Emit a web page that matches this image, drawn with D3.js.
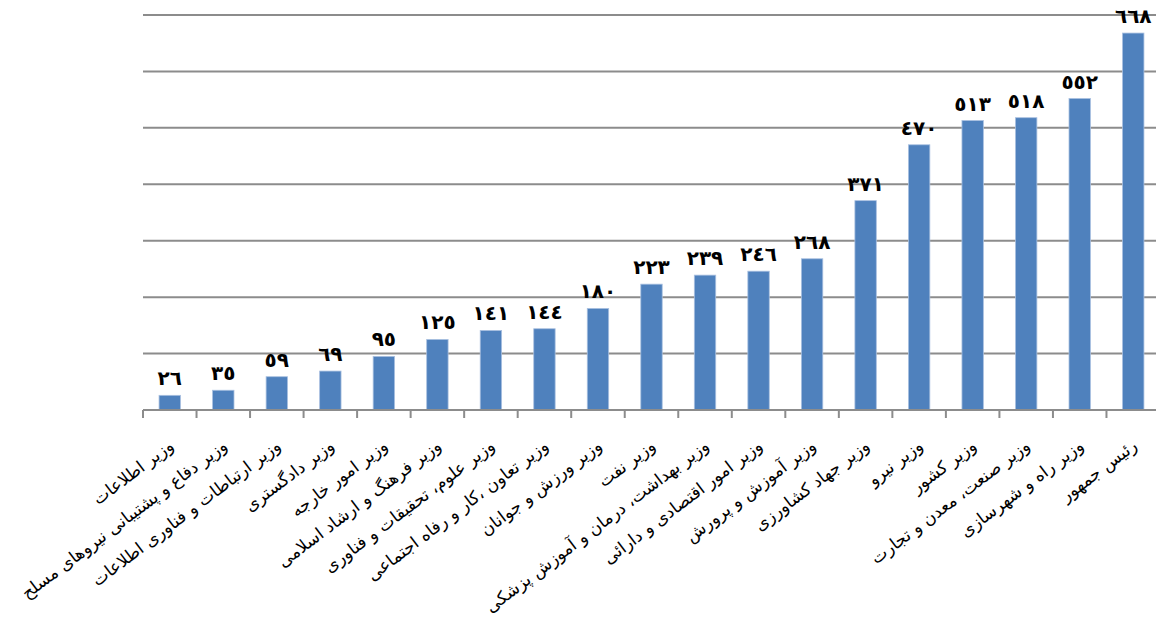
<!DOCTYPE html>
<html>
<head>
<meta charset="utf-8">
<script src="https://cdn.jsdelivr.net/npm/d3@7"></script>
<style>
  body { margin: 0; background: #fff; }
  svg { display: block; }
</style>
</head>
<body>
<script>

// categories, left to right
var categories = [
  "وزیر اطلاعات",
  "وزیر دفاع و پشتیبانی نیروهای مسلح",
  "وزیر ارتباطات و فناوری اطلاعات",
  "وزیر دادگستری",
  "وزیر امور خارجه",
  "وزیر فرهنگ و ارشاد اسلامی",
  "وزیر علوم، تحقیقات و فناوری",
  "وزیر تعاون ،کار و رفاه اجتماعی",
  "وزیر ورزش و جوانان",
  "وزیر نفت",
  "وزیر بهداشت، درمان و آموزش پزشکی",
  "وزیر امور اقتصادی و دارائی",
  "وزیر آموزش و پرورش",
  "وزیر جهاد کشاورزی",
  "وزیر نیرو",
  "وزیر  کشور",
  "وزیر صنعت، معدن و تجارت",
  "وزیر راه و شهرسازی",
  "رئیس جمهور"
];

var values = [26, 35, 59, 69, 95, 125, 141, 144, 180, 223, 239, 246, 268, 371, 470, 513, 518, 552, 668];

var gridTicks = [0, 100, 200, 300, 400, 500, 600, 700];

var width = 1156, height = 619;
var margin = { top: 15, right: -4, bottom: 209, left: 143 };

var arabicDigits = "٠١٢٣٤٥٦٧٨٩";
function toArabic(n) {
  return String(n).replace(/[0-9]/g, function(d) { return arabicDigits[+d]; });
}

var data = categories.map(function(c, i) { return { name: c, value: values[i] }; });

var svg = d3.select("body")
  .append("svg")
  .attr("width", width)
  .attr("height", height);

var xScale = d3.scaleBand()
  .domain(categories)
  .range([margin.left, width - margin.right])
  .paddingInner(0.6)
  .paddingOuter(0.3);

var yScale = d3.scaleLinear()
  .domain([0, 700])
  .range([height - margin.bottom, margin.top]);

// gridlines
svg.append("g")
  .selectAll("line")
  .data(gridTicks.slice(1))
  .enter()
  .append("line")
    .attr("x1", margin.left)
    .attr("x2", width)
    .attr("y1", function(d) { return yScale(d); })
    .attr("y2", function(d) { return yScale(d); })
    .attr("stroke", "#8c8c8c")
    .attr("stroke-width", 2);

// bars
svg.append("g")
  .selectAll("rect")
  .data(data)
  .enter()
  .append("rect")
    .attr("x", function(d) { return xScale(d.name); })
    .attr("y", function(d) { return yScale(d.value); })
    .attr("width", xScale.bandwidth())
    .attr("height", function(d) { return yScale(0) - yScale(d.value); })
    .attr("fill", "#4f81bd")
    .attr("stroke", "#a9c0e0")
    .attr("stroke-width", 0.8);

// value labels
svg.append("g")
  .selectAll("text")
  .data(data)
  .enter()
  .append("text")
    .attr("x", function(d) { return xScale(d.name) + xScale.bandwidth() / 2; })
    .attr("y", function(d) { return yScale(d.value) - 10; })
    .attr("text-anchor", "middle")
    .style("font-family", "'DejaVu Sans'")
    .style("font-weight", "bold")
    .style("font-size", "20px")
    .text(function(d) { return toArabic(d.value); });

// x axis: baseline + ticks at category boundaries
var step = xScale.step();
var gap = xScale.paddingInner() * step / 2;
var bounds = categories.map(function(c) { return xScale(c) - gap; });
bounds.push(xScale(categories[categories.length - 1]) + xScale.bandwidth() + gap);

var xAxis = svg.append("g")
  .attr("transform", `translate(0, ${yScale(0)})`);

xAxis.append("line")
  .attr("x1", margin.left)
  .attr("x2", width)
  .attr("stroke", "#8c8c8c")
  .attr("stroke-width", 2);

xAxis.selectAll(".bound")
  .data(bounds)
  .enter()
  .append("line")
    .attr("class", "bound")
    .attr("x1", function(d) { return d; })
    .attr("x2", function(d) { return d; })
    .attr("y1", 0)
    .attr("y2", 8)
    .attr("stroke", "#8c8c8c")
    .attr("stroke-width", 2);

// rotated category labels
svg.append("g")
  .selectAll("text")
  .data(categories)
  .enter()
  .append("text")
    .attr("text-anchor", "end")
    .attr("transform", function(d) {
      var cx = xScale(d) + xScale.bandwidth() / 2 + 5;
      return "translate(" + cx + "," + (yScale(0) + 38) + ")rotate(-37)";
    })
    .style("font-family", "'DejaVu Sans'")
    .style("font-size", "17px")
    .attr("fill", "#000")
    .text(function(d) { return d; });

</script>
</body>
</html>
